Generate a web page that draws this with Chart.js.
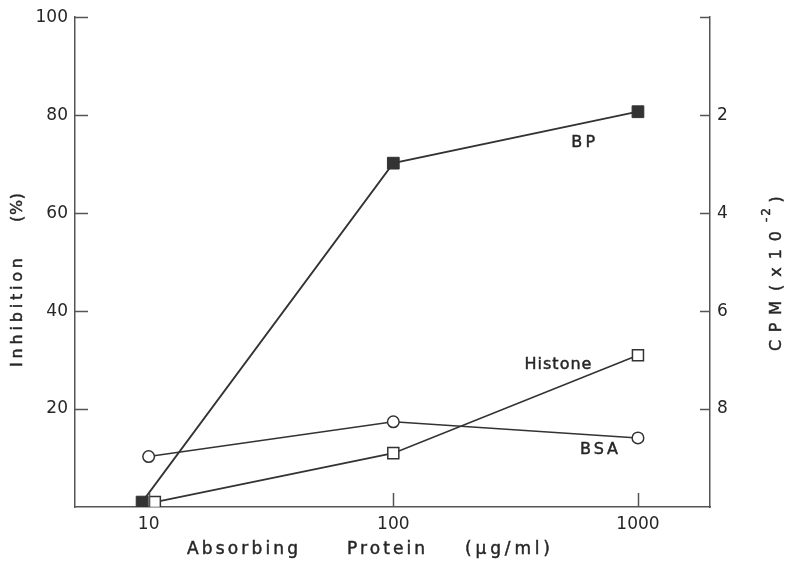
<!DOCTYPE html>
<html>
<head>
<meta charset="utf-8">
<script src="https://cdn.jsdelivr.net/npm/chart.js@4/dist/chart.umd.min.js"></script>
<style>
  html, body { margin: 0; padding: 0; background: #ffffff; }
  #wrap { width: 785px; height: 564px; }
</style>
</head>
<body>
<div id="wrap"><canvas id="chart" width="785" height="564"></canvas></div>
<script>
// Absorbing protein dose (µg/ml) and inhibition (%) per protein.
// The two squares at 10 µg/ml are set side by side so both stay visible.
const bpDoses      = [9.4, 100, 1000];
const bpInhibition = [1, 70.2, 80.7];

const histoneDoses      = [10.6, 100, 1000];
const histoneInhibition = [1, 11, 31];

const bsaDoses      = [10, 100, 1000];
const bsaInhibition = [10.3, 17.4, 14.1];

const doseTicks       = [10, 100, 1000];
const inhibitionTicks = [0, 20, 40, 60, 80, 100];
const cpmTicks        = [0, 2, 4, 6, 8, 10];

const INK = '#262626';
const AXIS = '#555555';
const FONT = '"DejaVu Sans", sans-serif';

function toPoints(xs, ys) {
  return xs.map((x, i) => ({ x: x, y: ys[i] }));
}

// Draws text centred on (cx, cy), stretched with letter spacing to a given width.
// A thin outline in the same ink gives the captions a slightly heavier weight.
function spanText(ctx, text, cx, cy, width, font, angle) {
  ctx.save();
  ctx.font = font;
  ctx.letterSpacing = '0px';
  const w0 = ctx.measureText(text).width;
  const ls = text.length > 1 ? (width - w0) / (text.length - 1) : 0;
  ctx.letterSpacing = ls + 'px';
  ctx.translate(cx, cy);
  ctx.rotate(angle || 0);
  ctx.fillStyle = INK;
  ctx.strokeStyle = INK;
  ctx.lineWidth = 0.45;
  ctx.textAlign = 'left';
  ctx.textBaseline = 'middle';
  ctx.fillText(text, -width / 2, 0);
  ctx.strokeText(text, -width / 2, 0);
  ctx.restore();
}

// Short tick marks pointing into the plot area.
const inwardTicks = {
  id: 'inwardTicks',
  afterDraw(chart) {
    const { ctx, chartArea: a, scales } = chart;
    ctx.save();
    ctx.strokeStyle = AXIS;
    ctx.lineWidth = 1.5;
    ctx.beginPath();
    scales.y.ticks.forEach(t => {
      if (t.value === 0) return;
      const py = Math.round(scales.y.getPixelForValue(t.value)) + 0.5;
      ctx.moveTo(a.left, py); ctx.lineTo(a.left + 13, py);
    });
    scales.y2.ticks.forEach(t => {
      if (t.value === 10) return;
      const py = Math.round(scales.y2.getPixelForValue(t.value)) + 0.5;
      ctx.moveTo(a.right - 10, py); ctx.lineTo(a.right, py);
    });
    scales.x.ticks.forEach(t => {
      const px = Math.round(scales.x.getPixelForValue(t.value)) + 0.5;
      ctx.moveTo(px, a.bottom); ctx.lineTo(px, a.bottom - 14);
    });
    ctx.stroke();
    ctx.restore();
  }
};

// Axis titles and the curve names.
const captions = {
  id: 'captions',
  afterDraw(chart) {
    const { ctx, scales: { x, y } } = chart;
    const up = -Math.PI / 2;
    const f16 = '16px ' + FONT;
    const f17 = '17px ' + FONT;

    // bottom title
    spanText(ctx, 'Absorbing', 242.5, 550, 111, f17);
    spanText(ctx, 'Protein', 386, 550, 78, f17);
    spanText(ctx, '(µg/ml)', 507.5, 550, 85, f17);

    // left title
    spanText(ctx, 'Inhibition', 18, 312.5, 109, f16, up);
    spanText(ctx, '(%)', 18, 207.5, 29, f16, up);

    // right title
    spanText(ctx, 'CPM', 777, 326, 50, f16, up);
    spanText(ctx, '(x10', 777, 261, 60, f16, up);
    spanText(ctx, '-2', 767, 215, 14, '12px ' + FONT, up);
    spanText(ctx, ')', 777, 200, 5, f16, up);

    // curve names, anchored in data units
    spanText(ctx, 'BP', x.getPixelForValue(597), y.getPixelForValue(74.3), 24, f16);
    spanText(ctx, 'Histone', x.getPixelForValue(471), y.getPixelForValue(29), 67, f16);
    spanText(ctx, 'BSA', x.getPixelForValue(693), y.getPixelForValue(11.7), 38, f16);
  }
};

const tickFont = { family: FONT, size: 17 };

new Chart(document.getElementById('chart'), {
  type: 'line',
  data: {
    datasets: [
      {
        label: 'BP',
        data: toPoints(bpDoses, bpInhibition),
        borderColor: '#333333', borderWidth: 1.8,
        pointStyle: 'rect', pointRadius: 8.3,
        pointBackgroundColor: '#333333', pointBorderColor: '#333333', pointBorderWidth: 1,
        yAxisID: 'y', tension: 0
      },
      {
        label: 'Histone',
        data: toPoints(histoneDoses, histoneInhibition),
        borderColor: '#333333', borderWidth: 1.6,
        pointStyle: 'rect', pointRadius: 7.8,
        pointBackgroundColor: '#ffffff', pointBorderColor: '#333333', pointBorderWidth: 1.5,
        yAxisID: 'y', tension: 0
      },
      {
        label: 'BSA',
        data: toPoints(bsaDoses, bsaInhibition),
        borderColor: '#333333', borderWidth: 1.6,
        pointStyle: 'circle', pointRadius: 5.8,
        pointBackgroundColor: '#ffffff', pointBorderColor: '#333333', pointBorderWidth: 1.5,
        yAxisID: 'y', tension: 0
      }
    ]
  },
  options: {
    responsive: false,
    animation: false,
    layout: { padding: { top: 14, left: 0, right: 0, bottom: 0 } },
    plugins: { legend: { display: false }, tooltip: { enabled: false } },
    scales: {
      x: {
        type: 'logarithmic', position: 'bottom', min: 5, max: 1970,
        afterBuildTicks: s => { s.ticks = doseTicks.map(v => ({ value: v })); },
        ticks: { callback: v => String(v), padding: 7, font: tickFont, color: INK, maxRotation: 0, autoSkip: false },
        grid: { display: false, drawTicks: false },
        border: { display: true, color: AXIS, width: 1.5 },
        afterFit: s => { s.height = 57; }
      },
      y: {
        type: 'linear', position: 'left', min: 0, max: 100,
        afterBuildTicks: s => { s.ticks = inhibitionTicks.map(v => ({ value: v })); },
        ticks: { callback: v => (v === 0 ? '' : String(v)), padding: 7, font: tickFont, color: INK },
        grid: { display: false, drawTicks: false },
        border: { display: true, color: AXIS, width: 1.5 },
        afterFit: s => { s.width = 75; }
      },
      y2: {
        type: 'linear', position: 'right', min: 0, max: 10, reverse: true,
        afterBuildTicks: s => { s.ticks = cpmTicks.map(v => ({ value: v })); },
        ticks: { callback: v => (v === 0 || v === 10 ? '' : String(v)), padding: 7, font: tickFont, color: INK },
        grid: { display: false, drawTicks: false },
        border: { display: true, color: AXIS, width: 1.5 },
        afterFit: s => { s.width = 75; }
      }
    }
  },
  plugins: [inwardTicks, captions]
});
</script>
</body>
</html>
